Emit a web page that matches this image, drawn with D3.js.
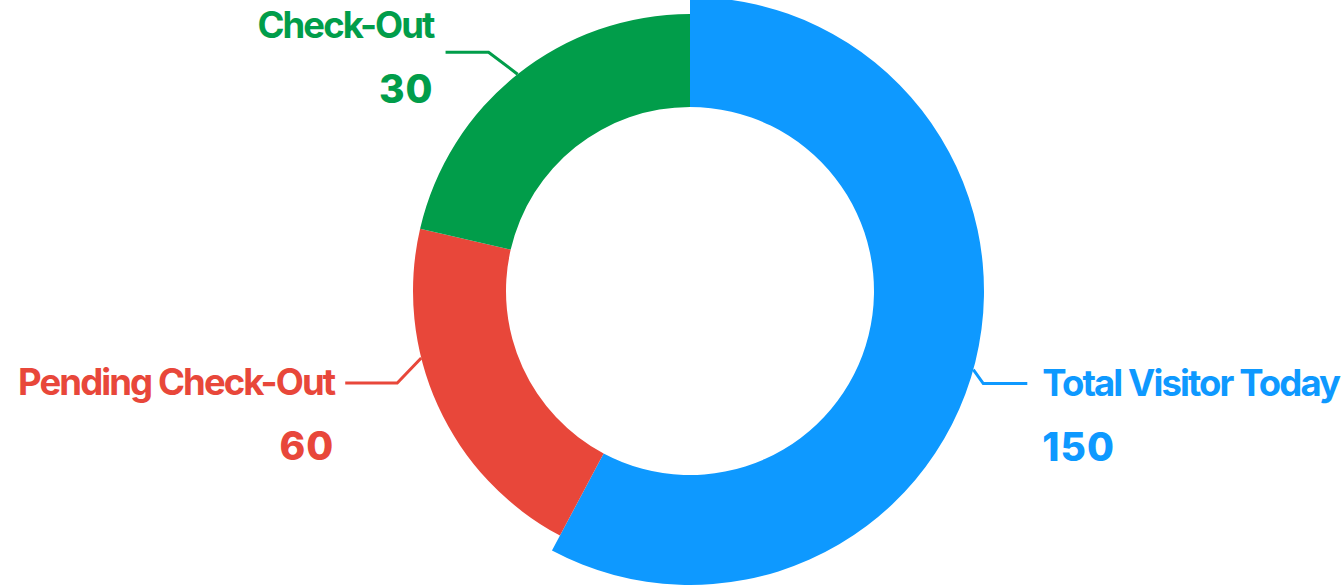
<!DOCTYPE html>
<html>
<head>
<meta charset="utf-8">
<script src="https://cdn.jsdelivr.net/npm/d3@7"></script>
<style>
  html, body { margin: 0; padding: 0; background: #ffffff; }
  svg { display: block; }
  text { font-family: Inter, "Noto Sans", sans-serif; font-weight: 700; }
  text.value { font-weight: 800; }
</style>
</head>
<body>
<svg id="chart" width="1344" height="585"></svg>
<script>
// ---- data ----
const categories = ["Total Visitor Today", "Pending Check-Out", "Check-Out"];
const displayValues = [150, 60, 30];          // numbers printed under the labels
const sliceWeights = [208, 75, 77];           // slice sizes as drawn (degrees of the ring)
const sliceColors = ["#0E99FF", "#E8473A", "#019D4A"];

// ---- layout ----
const W = 1344, H = 585;
const cx = 690, cy = 291;
const rInner = 184, rOuter = 277, rActive = 294;
const activeIndex = 0;
const labelFont = 36.5, labelSpacing = -1.9;
const valueFont = 39, valueSpacing = 1;

const svg = d3.select("#chart");
const g = svg.append("g").attr("transform", `translate(${cx},${cy})`);

const data = categories.map((c, i) => ({ name: c, value: displayValues[i], weight: sliceWeights[i], color: sliceColors[i], i }));

const pie = d3.pie().value(d => d.weight).sort(null).startAngle(0).endAngle(2 * Math.PI);
const arcs = pie(data);

const arcGen = d3.arc().innerRadius(rInner).outerRadius(d => d.index === activeIndex ? rActive : rOuter);

g.selectAll("path.slice")
  .data(arcs)
  .join("path")
  .attr("class", "slice")
  .attr("d", arcGen)
  .attr("fill", d => d.data.color);

// leader line configuration (anchor angle offset from mid angle, elbow vector, horizontal length)
const leaderCfg = [
  { dAng: 1.5, elbow: [10, 14], hLen: 44, gap: 15 },
  { dAng: 10.5, elbow: [-24, 25], hLen: 52, gap: 11 },
  { dAng: 0, elbow: [-29, -22], hLen: 43, gap: 12 }
];

arcs.forEach((a, k) => {
  const cfg = leaderCfg[k];
  const r = a.index === activeIndex ? rActive : rOuter;
  const mid = (a.startAngle + a.endAngle) / 2 + cfg.dAng * Math.PI / 180;
  const p1 = [r * Math.sin(mid), -r * Math.cos(mid)];
  const p2 = [p1[0] + cfg.elbow[0], p1[1] + cfg.elbow[1]];
  const right = p2[0] > 0;
  const p3 = [p2[0] + (right ? cfg.hLen : -cfg.hLen), p2[1]];

  g.append("path")
    .attr("d", d3.line()([p1, p2, p3]))
    .attr("fill", "none")
    .attr("stroke", a.data.color)
    .attr("stroke-width", 3);

  const tx = p3[0] + (right ? cfg.gap : -cfg.gap);
  const upper = p2[1] < -rInner;
  const labelY = upper ? p2[1] - 14 : p2[1] + 12;
  const valueY = labelY + 65;

  g.append("text")
    .attr("class", "label")
    .attr("x", tx).attr("y", labelY)
    .attr("text-anchor", right ? "start" : "end")
    .attr("font-size", labelFont)
    .attr("letter-spacing", labelSpacing)
    .attr("fill", a.data.color)
    .text(a.data.name);

  g.append("text")
    .attr("class", "value")
    .attr("x", tx).attr("y", valueY)
    .attr("text-anchor", right ? "start" : "end")
    .attr("font-size", valueFont)
    .attr("letter-spacing", valueSpacing)
    .attr("fill", a.data.color)
    .text(a.data.value);
});
</script>
</body>
</html>
